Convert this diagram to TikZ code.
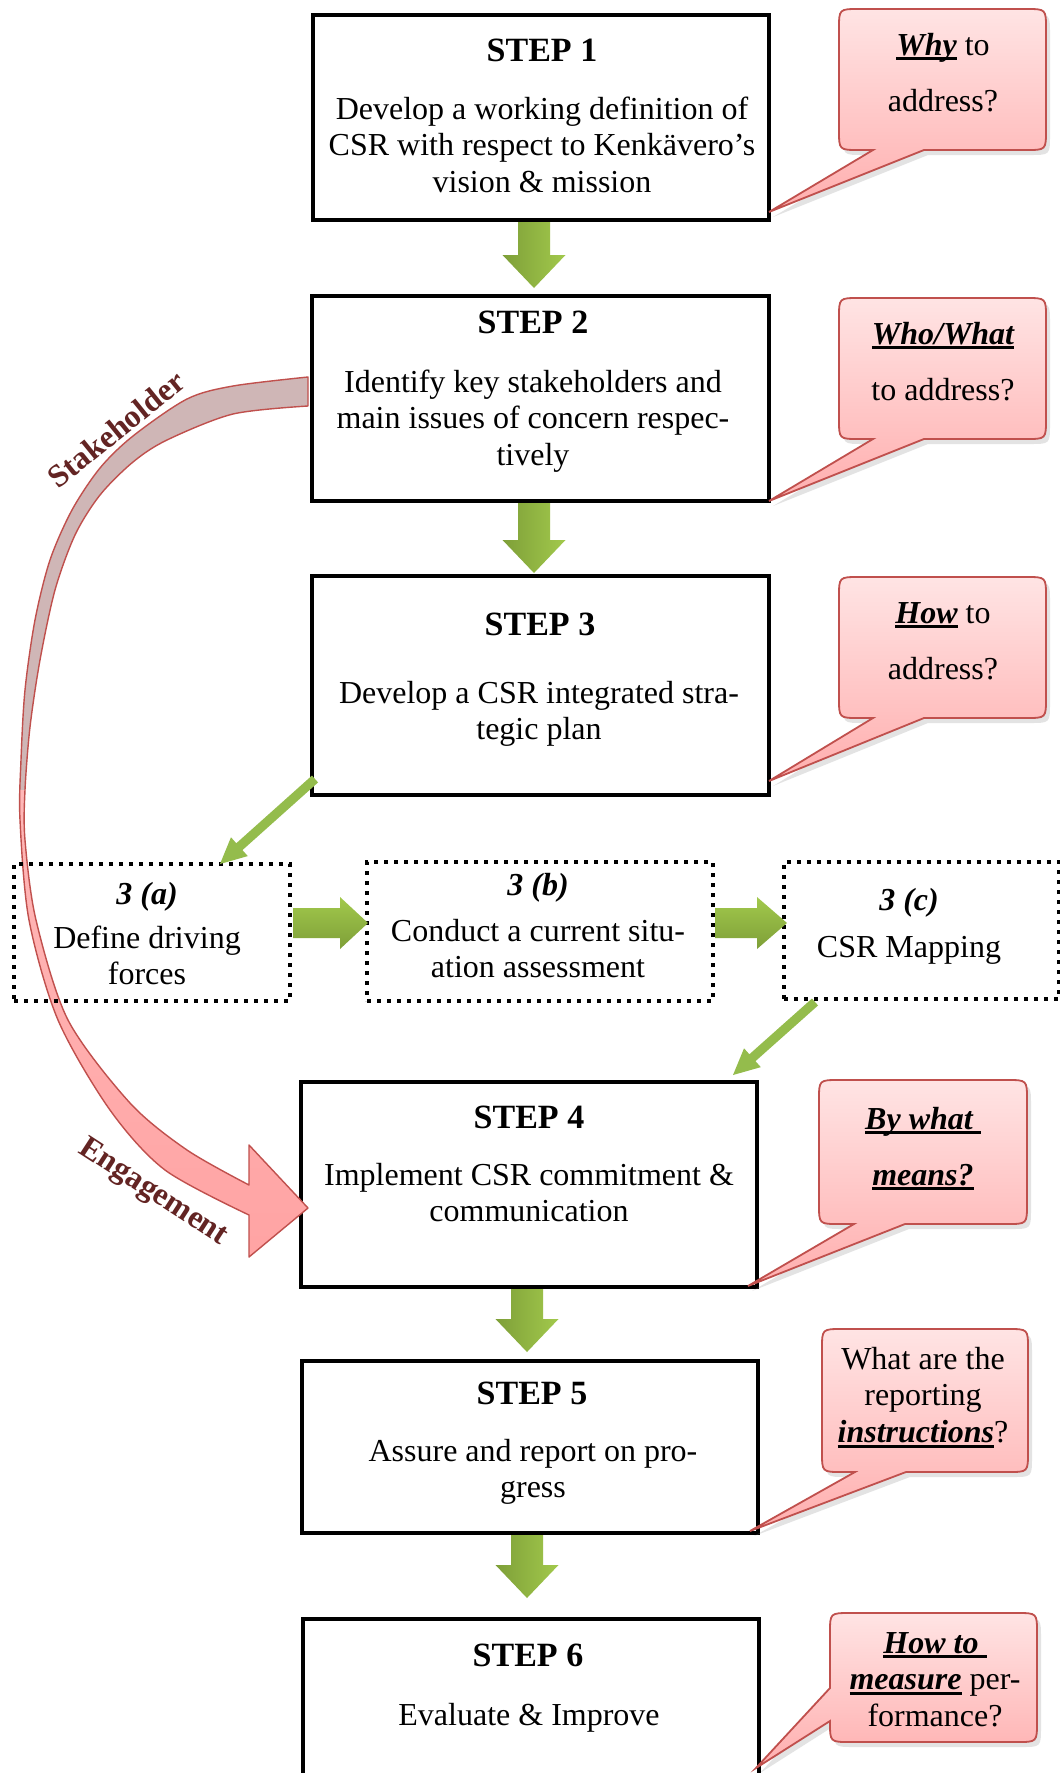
\documentclass[tikz,border=0pt]{standalone}
\usepackage{fontspec}
\setmainfont{Liberation Serif}
\usetikzlibrary{calc,shadows}
\definecolor{gdark}{HTML}{7E9F38}
\definecolor{glight}{HTML}{A2C94C}
\definecolor{gmid}{HTML}{94BC4C}
\definecolor{cred}{HTML}{C0504D}
\definecolor{ctop}{HTML}{FFE4E4}
\definecolor{cbot}{HTML}{FFAEAE}
\definecolor{dusty}{HTML}{CFB6B6}
\definecolor{pinkA}{HTML}{FFB8B8}
\definecolor{pinkB}{HTML}{FFA3A3}
\definecolor{wordred}{HTML}{632423}
\newcommand\ulbi[1]{\setbox0=\hbox{\bfseries\itshape #1}\rlap{\rule[-2.6pt]{\wd0}{1.4pt}}\box0\relax}
\newcommand\calloutB[7]{(#5,#4) -- (#7) -- (#6,#4) -- ({#3-20},#4) .. controls (#3,#4) .. (#3,{#4-20}) -- (#3,{#2+20}) .. controls (#3,#2) .. ({#3-20},#2) -- ({#1+20},#2) .. controls (#1,#2) .. (#1,{#2+20}) -- (#1,{#4-20}) .. controls (#1,#4) .. ({#1+20},#4) -- cycle}
\def\crvpath{plot[smooth,tension=0.5] coordinates {(308,377) (233,386) (187,399) (133,436) (100,468) (72,510) (50,560) (35,620) (25,690) (21,760) (20,820) (29,920) (58,1020) (110,1110) (165,1170) (249,1215)} -- (249,1257) -- (308,1208) -- (249,1145) -- (249,1185) -- plot[smooth,tension=0.5] coordinates {(249,1185) (187,1150) (130,1103) (68,1020) (36,920) (25,840) (25,790) (30,727) (40,660) (55,590) (75,535) (100,495) (133,462) (167,440) (233,414) (308,406)} -- cycle}
\begin{document}
\begin{tikzpicture}[x=0.5pt,y=-0.5pt,
  stepbox/.style={draw, line width=2.2pt, fill=white, inner sep=0, outer sep=0},
  dotbox/.style={draw, line width=2pt, dash pattern=on 2pt off 3pt, inner sep=0, outer sep=0},
  head/.style={font=\fontsize{17}{20}\selectfont\bfseries, anchor=base, inner sep=0},
  body/.style={font=\fontsize{16}{18.4}\selectfont, align=center, anchor=base, inner sep=0},
  subhead/.style={font=\fontsize{16}{18.4}\selectfont\bfseries\itshape, anchor=base, inner sep=0},
  qtext/.style={font=\fontsize{16}{28}\selectfont, align=center, anchor=base, inner sep=0},
  qtextS/.style={font=\fontsize{16}{18.4}\selectfont, align=center, anchor=base, inner sep=0},
  callout/.style={draw=cred, line width=0.9pt, top color=ctop, bottom color=cbot, drop shadow={opacity=0.22, shadow xshift=2pt, shadow yshift=-2.5pt}},
  garrowv/.style={left color=gdark, right color=glight},
  garrowh/.style={top color=glight, bottom color=gdark},
  garrowd/.style={fill=gmid},
  blockarrow/.style n args={3}{to path={
    ($(\tikztostart)!#1!-90:(\tikztotarget)$)
    -- ($(\tikztotarget)!#3!(\tikztostart)!#1!-90:(\tikztotarget)$)
    -- ($(\tikztotarget)!#3!(\tikztostart)!#2!-90:(\tikztotarget)$)
    -- (\tikztotarget)
    -- ($(\tikztotarget)!#3!(\tikztostart)!#2!90:(\tikztotarget)$)
    -- ($(\tikztotarget)!#3!(\tikztostart)!#1!90:(\tikztotarget)$)
    -- ($(\tikztostart)!#1!90:(\tikztotarget)$)
    -- cycle}},
  word/.style={font=\fontsize{16}{18}\selectfont\bfseries, text=wordred, inner sep=0}
]
\useasboundingbox (0,0) rectangle (1060,1773);
\fill[white] (0,0) rectangle (1060,1773);

% step boxes
\node[stepbox, minimum width=228pt, minimum height=102.5pt] (s1) at (541,117.5) {};
\node[stepbox, minimum width=228.5pt, minimum height=102.5pt] (s2) at (540.5,398.5) {};
\node[stepbox, minimum width=228.5pt, minimum height=109.5pt] (s3) at (540.5,685.5) {};
\node[stepbox, minimum width=228pt, minimum height=102.5pt] (s4) at (529,1184.5) {};
\node[stepbox, minimum width=228pt, minimum height=86pt] (s5) at (530,1447) {};
\node[stepbox, minimum width=228pt, minimum height=90.5pt] (s6) at (531,1709.5) {};

% curved arrow
\begin{scope}
\clip \crvpath;
\fill[dusty] (0,350) rectangle (330,790);
\shade[top color=pinkA, bottom color=pinkB] (0,790) rectangle (330,1270);
\end{scope}
\draw[cred, line width=0.7pt, line join=round] \crvpath;
\node[word, rotate=39] (lbl1) at (116,429) {Stakeholder};
\node[word, rotate=-33] (lbl2) at (153,1193) {Engagement};

% sub-step boxes
\node[dotbox, minimum width=138pt, minimum height=68.5pt] (s3a) at (152,932.5) {};
\node[dotbox, minimum width=173pt, minimum height=69.5pt] (s3b) at (540,931.5) {};
\node[dotbox, minimum width=137.5pt, minimum height=68.5pt] (s3c) at (921.5,930.5) {};

% texts in boxes (base = last line)
\node[head] (s1h) at (542,61) {STEP 1};
\node[body] (s1t) at (542,192.6) {Develop a working definition of\\CSR with respect to Kenkävero’s\\vision \& mission};
\node[head] (s2h) at (533,333) {STEP 2};
\node[body] (s2t) at (533,465.6) {Identify key stakeholders and\\main issues of concern respec-\\tively};
\node[head] (s3h) at (540,635) {STEP 3};
\node[body] (s3t) at (539,739.8) {Develop a CSR integrated stra-\\tegic plan};
\node[subhead] (s3ah) at (147,904) {3 (a)};
\node[body] (s3at) at (147,984.8) {Define driving\\forces};
\node[subhead] (s3bh) at (538,895) {3 (b)};
\node[body] (s3bt) at (538,977.8) {Conduct a current situ-\\ation assessment};
\node[subhead] (s3ch) at (909,910) {3 (c)};
\node[body] (s3ct) at (909,957) {CSR Mapping};
\node[head] (s4h) at (529,1128) {STEP 4};
\node[body] (s4t) at (529,1221.8) {Implement CSR commitment \&\\communication};
\node[head] (s5h) at (532,1404) {STEP 5};
\node[body] (s5t) at (533,1497.8) {Assure and report on pro-\\gress};
\node[head] (s6h) at (528,1666) {STEP 6};
\node[body] (s6t) at (529,1725) {Evaluate \& Improve};

% green arrows
\coordinate (a12s) at ($(s1.south)+(-7,2)$);
\coordinate (a12e) at ($(s2.north)+(-6.5,-8)$);
\coordinate (a23s) at ($(s2.south)+(-6.5,2)$);
\coordinate (a23e) at ($(s3.north)+(-6.5,-3)$);
\coordinate (a45s) at ($(s4.south)+(-2,2)$);
\coordinate (a45e) at ($(s5.north)+(-3,-9)$);
\coordinate (a56s) at ($(s5.south)+(-3,2)$);
\coordinate (a56e) at ($(s6.north)+(-4,-21)$);
\coordinate (aabs) at ($(s3a.east)+(3,-9.5)$);
\coordinate (aabe) at ($(s3b.west)+(1,-8.5)$);
\coordinate (abcs) at ($(s3b.east)+(2,-8.5)$);
\coordinate (abce) at ($(s3c.west)+(3,-7.5)$);
\coordinate (d1s) at ($(s3.south west)+(3,-16)$);
\coordinate (d1e) at ($(s3a.north east)+(-70,0)$);
\coordinate (d2s) at ($(s3c.south west)+(31,3)$);
\coordinate (d2e) at ($(s4.north east)+(-24,-7)$);
\path[garrowv] (a12s) to[blockarrow={8pt}{15.75pt}{16.5pt}] (a12e);
\path[garrowv] (a23s) to[blockarrow={8pt}{15.75pt}{16.5pt}] (a23e);
\path[garrowv] (a45s) to[blockarrow={8pt}{15.75pt}{16.5pt}] (a45e);
\path[garrowv] (a56s) to[blockarrow={8pt}{15.75pt}{16.5pt}] (a56e);
\path[garrowh] (aabs) to[blockarrow={7.5pt}{13pt}{14pt}] (aabe);
\path[garrowh] (abcs) to[blockarrow={7.5pt}{13pt}{15pt}] (abce);
\path[garrowd] (d1s) to[blockarrow={2.3pt}{6.3pt}{13pt}] (d1e);
\path[garrowd] (d2s) to[blockarrow={2.3pt}{6.3pt}{13pt}] (d2e);

% callouts
\path[callout] \calloutB{839}{9}{1046}{150}{873}{924}{$(s1.south east)+(0,-8)$};
\path[callout] \calloutB{839}{298}{1046}{439}{873}{924}{s2.south east};
\path[callout] \calloutB{839}{577}{1046}{718}{873}{924}{$(s3.south east)+(0,-14)$};
\path[callout] \calloutB{819}{1080}{1027}{1224}{854}{905}{$(s4.south east)+(-9,-1)$};
\path[callout] \calloutB{822}{1329}{1028}{1472}{855}{906}{$(s5.south east)+(-8,-2)$};
\path[callout] (830,1688) -- ($(s6.north east)+(-3,149)$) -- (830,1721) -- (830,1722) .. controls (830,1742) .. (850,1742) -- (1017,1742) .. controls (1037,1742) .. (1037,1722) -- (1037,1633) .. controls (1037,1613) .. (1017,1613) -- (850,1613) .. controls (830,1613) .. (830,1633) -- cycle;

\node[qtext] (q1) at (943,111) {\ulbi{Why} to\\address?};
\node[qtext] (q2) at (943,400) {\ulbi{Who/What}\\to address?};
\node[qtext] (q3) at (943,679) {\ulbi{How} to\\address?};
\node[qtext] (q4) at (923,1185) {\ulbi{By what\ }\\\ulbi{means?}};
\node[qtextS] (q5) at (923,1442.6) {What are the\\reporting\\\ulbi{instructions}?};
\node[qtextS] (q6) at (935,1726.6) {\ulbi{How to\ }\\\ulbi{measure} per-\\formance?};
\end{tikzpicture}
\end{document}
